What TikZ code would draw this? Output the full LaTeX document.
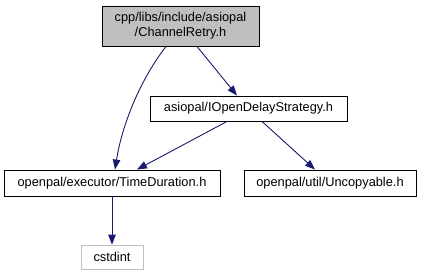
\documentclass[tikz,border=0pt]{standalone}
\usepackage{fontspec}
\setmainfont{Liberation Sans}
\usetikzlibrary{arrows.meta}
\definecolor{edgeblue}{HTML}{191970}
\definecolor{rootfill}{HTML}{BFBFBF}
\definecolor{extborder}{HTML}{BFBFBF}
\begin{document}
\begin{tikzpicture}[x=1pt,y=-1pt,
  filebox/.style={draw=black, line width=0.9pt, fill=white, inner sep=0pt,
    font=\fontsize{12.8}{15}\selectfont, align=center},
  dep/.style={draw=edgeblue, line width=0.9pt,
    -{Triangle[length=10pt,width=7.5pt]}, color=edgeblue}]
\useasboundingbox (0,0) rectangle (421,276);
\fill[white] (0,0) rectangle (421,276);

\node[filebox, fill=rootfill, minimum width=157pt, minimum height=40pt] (root) at (180.5,26)
  {cpp/libs/include/asiopal\\/ChannelRetry.h};
\node[filebox, minimum width=197pt, minimum height=25pt] (delay) at (248.5,108.5)
  {asiopal/IOpenDelayStrategy.h};
\node[filebox, minimum width=216pt, minimum height=26pt] (dur) at (112,183)
  {openpal/executor/TimeDuration.h};
\node[filebox, minimum width=172pt, minimum height=26pt] (unc) at (330,183)
  {openpal/util/Uncopyable.h};
\node[filebox, draw=extborder, minimum width=62pt, minimum height=24pt] (cst) at (112,257)
  {cstdint};

\draw[dep] ([xshift=16.5pt]root.south) -- ([xshift=-11.5pt]delay.north);
\draw[dep] ([xshift=-14.5pt]root.south) .. controls (140,80) and (122,125) .. ([xshift=3pt]dur.north);
\draw[dep] ([xshift=-21.5pt]delay.south) -- ([xshift=25pt]dur.north);
\draw[dep] ([xshift=13.5pt]delay.south) -- ([xshift=-15pt]unc.north);
\draw[dep] (dur.south) -- (cst.north);
\end{tikzpicture}
\end{document}
